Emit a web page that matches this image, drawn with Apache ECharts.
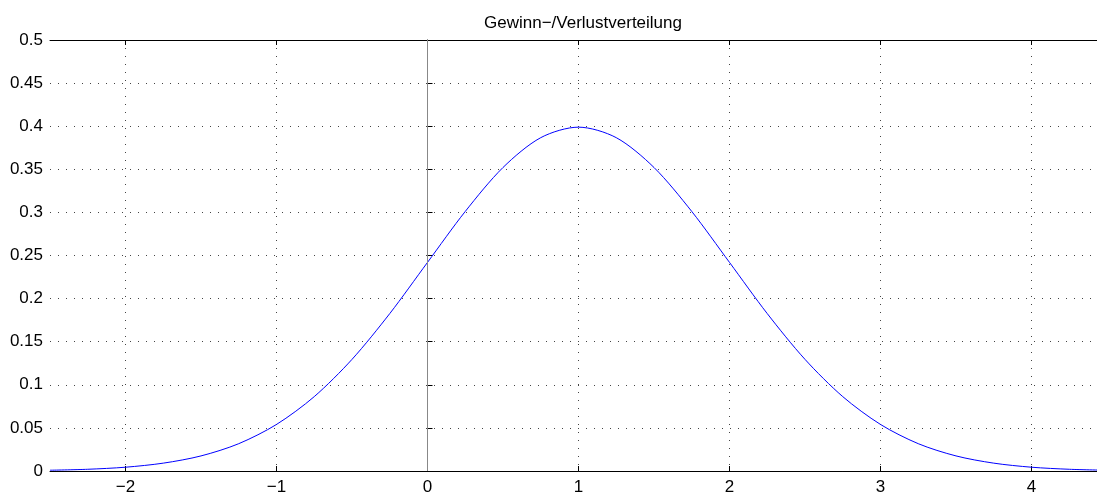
<!DOCTYPE html>
<html>
<head>
<meta charset="utf-8">
<script src="https://cdn.jsdelivr.net/npm/echarts@6/dist/echarts.min.js"></script>
<style>
    html, body { margin: 0; padding: 0; background: #fff; overflow: hidden; }
    #chart { width: 1108px; height: 498px; }
</style>
</head>
<body>
<div id="chart"></div>
<script>
// x positions and density
const xValues = [-2.5, -2.25, -2, -1.75, -1.5, -1.25, -1, -0.75, -0.5, -0.25, 0, 0.25, 0.5, 0.75, 1,
    1.25, 1.5, 1.75, 2, 2.25, 2.5, 2.75, 3, 3.25, 3.5, 3.75, 4, 4.25, 4.5]
const densities = [0.0009, 0.002, 0.0044, 0.0091, 0.0175, 0.0317, 0.054, 0.0863, 0.1295, 0.1826, 0.242, 0.3011, 0.3521, 0.3867, 0.3989,
    0.3867, 0.3521, 0.3011, 0.242, 0.1826, 0.1295, 0.0863, 0.054, 0.0317, 0.0175, 0.0091, 0.0044, 0.002, 0.0009]
const xTicks = [-2, -1, 0, 1, 2, 3, 4]
const yTicks = [0, 0.05, 0.1, 0.15, 0.2, 0.25, 0.3, 0.35, 0.4, 0.45, 0.5]
const titleText = 'Gewinn\u2212/Verlustverteilung'

const font = 'Liberation Sans, Arial, Helvetica, sans-serif'
const dotted = {color: '#444', width: 1, type: [1, 7]}

const chart = echarts.init(document.getElementById('chart'))

const getOption = () => {
    const points = xValues.map((x, i) => [x, densities[i]])
    return {
        animation: false,
        title: {
            text: titleText,
            left: 578,
            textAlign: 'center',
            top: 10,
            textStyle: {fontFamily: font, fontSize: 17, fontWeight: 'normal', color: '#000'}
        },
        grid: {
            left: 50, top: 40, width: 1057, height: 431,
            show: false
        },
        xAxis: [
            {
                type: 'value',
                min: -2.5, max: 4.5, interval: 1,
                axisLine: {show: true, lineStyle: {color: '#000', width: 1}},
                axisTick: {show: true, inside: true, length: 5, lineStyle: {color: '#000'},
                    customValues: xTicks},
                axisLabel: {
                    customValues: xTicks,
                    margin: 8,
                    fontFamily: font, fontSize: 17, color: '#000',
                    formatter: v => String(v).replace('-', '\u2212')
                },
                splitLine: {show: true, lineStyle: dotted}
            },
            {
                type: 'value', position: 'top',
                min: -2.5, max: 4.5, interval: 1,
                axisLine: {show: true, lineStyle: {color: '#000', width: 1}},
                axisTick: {show: true, inside: true, length: 5, lineStyle: {color: '#000'},
                    customValues: xTicks},
                axisLabel: {show: false},
                splitLine: {show: false}
            }
        ],
        yAxis: {
            type: 'value',
            min: 0, max: 0.5, interval: 0.05,
            axisLine: {show: true, lineStyle: {color: '#000', width: 1}},
            axisTick: {show: true, inside: true, length: 5, lineStyle: {color: '#000'}},
            axisLabel: {
                margin: 7,
                fontFamily: font, fontSize: 17, color: '#000',
                formatter: v => {
                    const t = yTicks.find(y => Math.abs(y - v) < 1e-9)
                    return t === undefined ? '' : String(t)
                }
            },
            splitLine: {show: true, lineStyle: dotted}
        },
        series: [
            {
                type: 'line',
                data: points,
                smooth: 0.3,
                showSymbol: false,
                lineStyle: {color: '#0000ff', width: 1},
                markLine: {
                    silent: true,
                    symbol: 'none',
                    label: {show: false},
                    lineStyle: {color: '#888', width: 1, type: 'solid'},
                    data: [{xAxis: 0}]
                },
                z: 3
            }
        ]
    }
}

chart.setOption(getOption())
</script>
</body>
</html>
